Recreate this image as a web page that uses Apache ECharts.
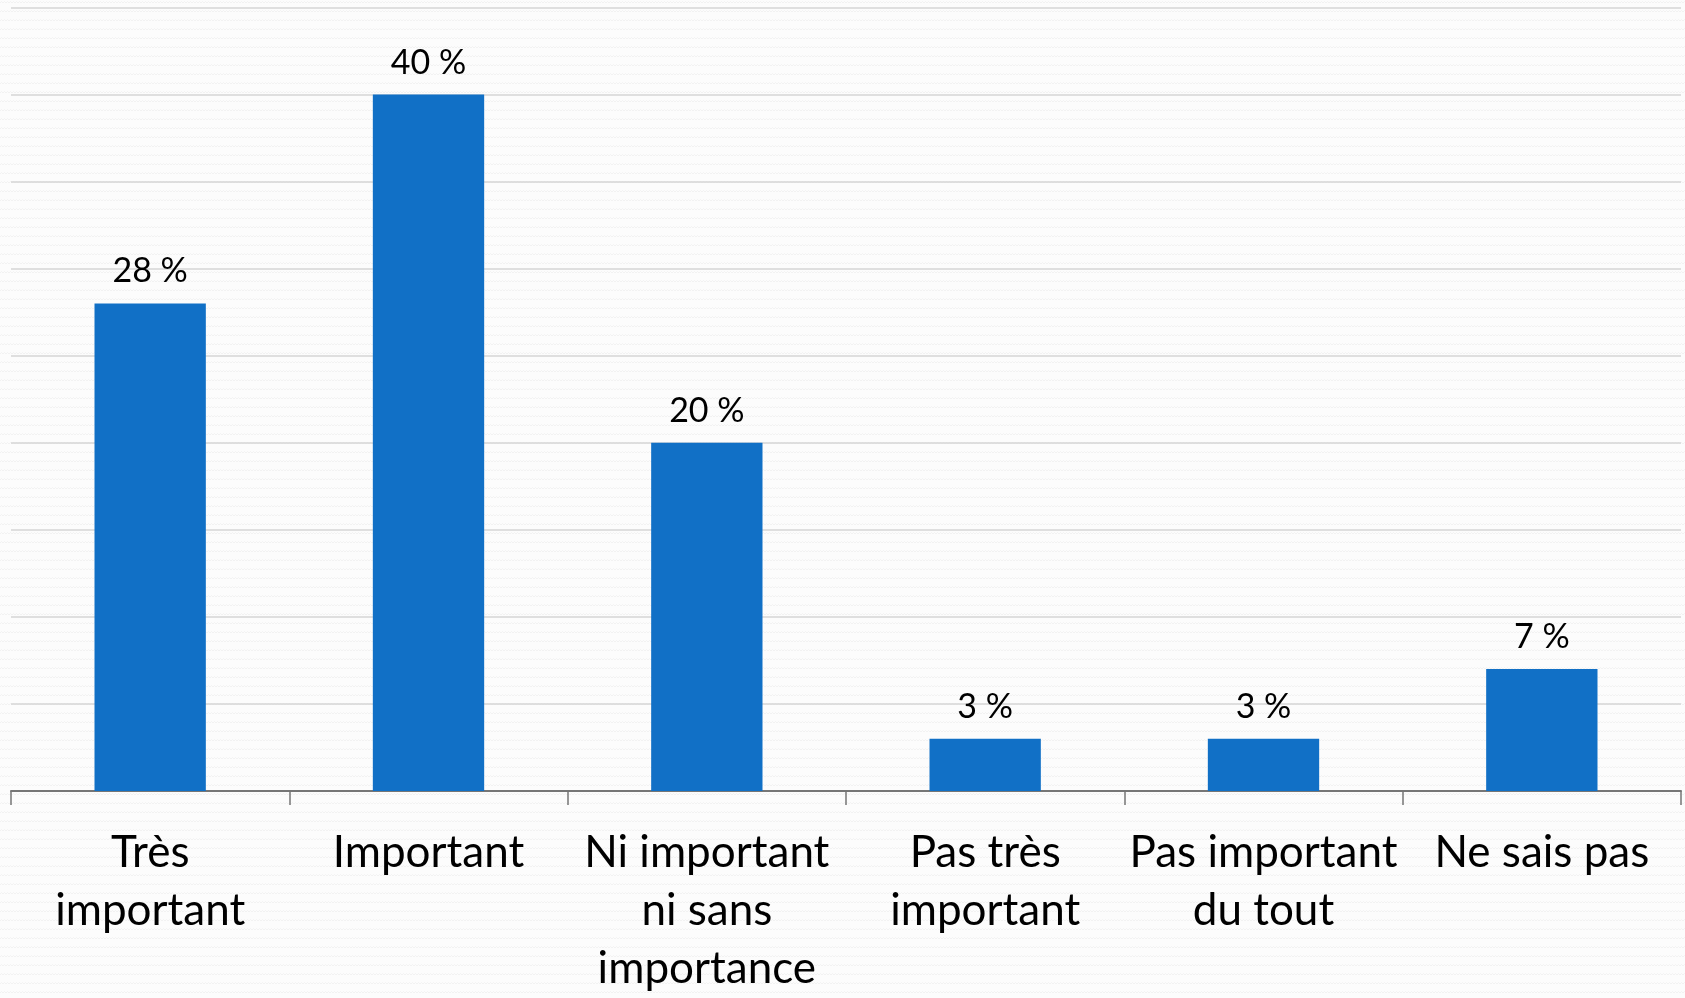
<!DOCTYPE html>
<html>
<head>
<meta charset="utf-8">
<script src="https://cdn.jsdelivr.net/npm/echarts@6/dist/echarts.min.js"></script>
<style>
  html, body { margin: 0; padding: 0; }
  body {
    width: 1685px; height: 998px; overflow: hidden;
    background-color: #fcfcfc;
    background-image: url("data:image/svg+xml;utf8,<svg xmlns='http://www.w3.org/2000/svg' width='6' height='9'><path d='M0 3 L1.5 1.5 L3 3 L4.5 1.5 L6 3' fill='none' stroke='%23f2f2f2' stroke-width='1'/></svg>");
  }
  #chart { width: 1685px; height: 998px; }
</style>
</head>
<body>
<div id="chart"></div>
<script>
// Survey answers and their shares (%)
const categories = [
  'Très\nimportant',
  'Important',
  'Ni important\nni sans\nimportance',
  'Pas très\nimportant',
  'Pas important\ndu tout',
  'Ne sais pas'
];
const shares = [28, 40, 20, 3, 3, 7];

const font = 'Lato, "Open Sans", sans-serif';
const chart = echarts.init(document.getElementById('chart'), null, { renderer: 'canvas' });

chart.setOption({
  backgroundColor: 'transparent',
  animation: false,
  grid: { left: 11, right: 4, top: 7.5, bottom: 200.5 },
  xAxis: {
    type: 'category',
    data: categories,
    axisLine: { lineStyle: { color: '#767676', width: 2 } },
    axisTick: { show: true, length: 14, lineStyle: { color: '#767676', width: 1.5 } },
    axisLabel: {
      interval: 0,
      margin: 33,
      color: '#000',
      fontFamily: font,
      fontSize: 44,
      lineHeight: 58,
      align: 'center'
    }
  },
  yAxis: {
    type: 'value',
    min: 0,
    max: 45,
    interval: 5,
    axisLine: { show: false },
    axisTick: { show: false },
    axisLabel: { show: false },
    splitLine: { lineStyle: { color: '#d6d6d6', width: 1.5 } }
  },
  series: [{
    type: 'bar',
    data: shares,
    barWidth: '40%',
    itemStyle: { color: '#1170c6' },
    label: {
      show: true,
      position: 'top',
      distance: 14,
      color: '#000',
      fontFamily: font,
      fontSize: 34,
      lineHeight: 36,
      formatter: p => p.value + ' %'
    }
  }]
});
</script>
</body>
</html>
